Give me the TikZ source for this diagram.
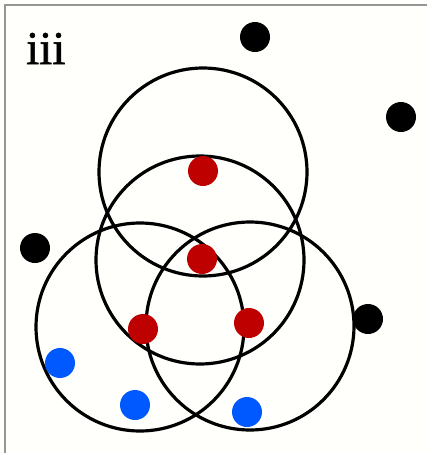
\documentclass[tikz,border=0pt]{standalone}
\usepackage{fontspec}
\setmainfont{Liberation Serif}
\newfontfamily\lblfont[FakeBold=1.2]{Liberation Serif}
\begin{document}
\begin{tikzpicture}[x=1pt,y=-1pt,
  ring/.style={circle,draw=black,line width=3.2pt,minimum size=208pt,inner sep=0pt},
  dot/.style={circle,inner sep=0pt,minimum size=30pt},
  reddot/.style={dot,fill={rgb,255:red,190;green,0;blue,0}},
  bluedot/.style={dot,fill={rgb,255:red,0;green,88;blue,255}},
  blackdot/.style={dot,fill=black}]
\useasboundingbox (0,0) rectangle (427,453);
\fill[white!99!yellow] (0,0) rectangle (427,453);
\draw[line width=1.8pt,color={rgb,255:red,150;green,150;blue,150}] (5,453) -- (5,5) -- (427,5);
\node[anchor=base west,inner sep=0pt,font=\lblfont\fontsize{47}{47}\selectfont] (lbl) at (26,64) {iii};
\node[ring] (c1) at (203,172) {};
\node[ring] (c2) at (200,260) {};
\node[ring] (c3) at (140,327) {};
\node[ring] (c4) at (250,326) {};
\node[reddot] (r1) at (203,171) {};
\node[reddot] (r2) at (202,259) {};
\node[reddot] (r3) at (143,329) {};
\node[reddot] (r4) at (249,323) {};
\node[bluedot] (b1) at (60,363) {};
\node[bluedot] (b2) at (135,405) {};
\node[bluedot] (b3) at (247,412) {};
\node[blackdot] (k1) at (255,37) {};
\node[blackdot] (k2) at (401,117) {};
\node[blackdot] (k3) at (35,248) {};
\node[blackdot] (k4) at (368,319) {};
\end{tikzpicture}
\end{document}
